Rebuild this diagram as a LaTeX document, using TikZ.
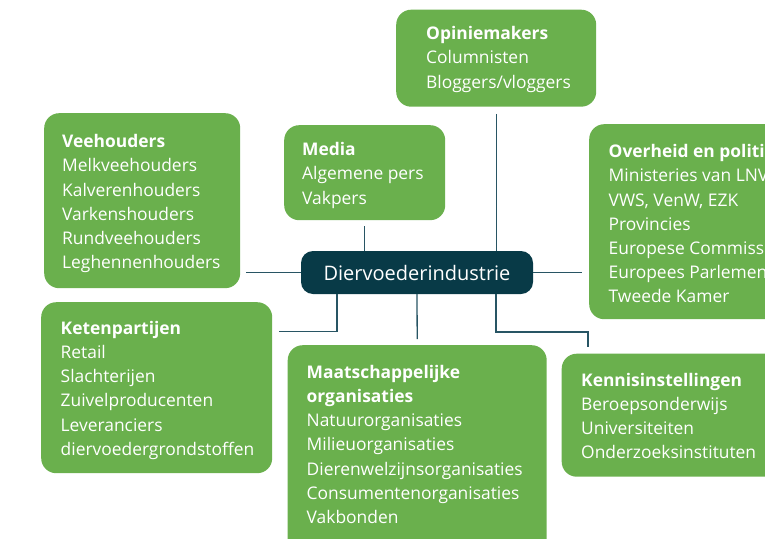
\documentclass[tikz,border=0pt]{standalone}
\usepackage{fontspec}
\setmainfont{Open Sans}
\definecolor{boxgreen}{RGB}{106,176,77}
\definecolor{darkteal}{RGB}{8,58,71}
\definecolor{linecol}{RGB}{40,85,100}
\begin{document}
\begin{tikzpicture}[x=1pt,y=-1pt,
  box/.style={fill=boxgreen, draw=none, rounded corners=15pt, anchor=north west, inner sep=0pt},
  txt/.style={anchor=north west, inner sep=0pt, align=left, text=white, font=\fontsize{17.4}{24.2}\selectfont},
  conn/.style={draw=linecol, line width=1.3pt}]
\useasboundingbox (0,0) rectangle (765,538);
\clip (0,0) rectangle (765,538);
% boxes
\node[box, minimum width=200pt, minimum height=97pt] (opin) at (396,9.5) {};
\node[box, minimum width=196pt, minimum height=175pt] (veeh) at (44,113) {};
\node[box, minimum width=161pt, minimum height=95pt] (media) at (284,125) {};
\node[box, minimum width=220pt, minimum height=195pt] (over) at (589,124) {};
\node[box, minimum width=231pt, minimum height=171pt] (keten) at (41,302) {};
\node[box, minimum width=259pt, minimum height=230pt] (maats) at (287.5,345) {};
\node[box, minimum width=240pt, minimum height=123pt] (kenn) at (561.5,353.5) {};
\node[fill=darkteal, rounded corners=12pt, inner sep=0pt, minimum width=232pt, minimum height=43pt,
      text=white, font=\fontsize{20}{24}\selectfont] (dier) at (417,272.5) {Diervoederindustrie};
% texts
\node[txt] (opint) at (426,39.5-16.94) {\strut\textbf{Opiniemakers}\\Columnisten\\Bloggers/vloggers};
\node[txt] (veeht) at (62,147.5-16.94) {\strut\textbf{Veehouders}\\Melkveehouders\\Kalverenhouders\\Varkenshouders\\Rundveehouders\\Leghennenhouders};
\node[txt] (mediat) at (302,155.5-16.94) {\strut\textbf{Media}\\Algemene pers\\Vakpers};
\node[txt] (overt) at (608.5,157.5-16.94) {\strut\textbf{Overheid en politiek}\\Ministeries van LNV,\\VWS, VenW, EZK\\Provincies\\Europese Commissie\\Europees Parlement\\Tweede Kamer};
\node[txt] (ketent) at (60.5,334-16.94) {\strut\textbf{Ketenpartijen}\\Retail\\Slachterijen\\Zuivelproducenten\\Leveranciers\\diervoedergrondstoffen};
\node[txt] (maatst) at (306.5,378-16.94) {\strut\textbf{Maatschappelijke}\\\textbf{organisaties}\\Natuurorganisaties\\Milieuorganisaties\\Dierenwelzijnsorganisaties\\Consumentenorganisaties\\Vakbonden};
\node[txt] (kennt) at (581,386-16.94) {\strut\textbf{Kennisinstellingen}\\Beroepsonderwijs\\Universiteiten\\Onderzoeksinstituten};
% connectors
\coordinate (ketbend) at (279,331.5);
\coordinate (kenbend) at (588,332);
\coordinate (kenend) at (588,347);
\draw[conn] ([yshift=-7pt]opin.south) -- (opin.south |- dier.north);
\draw[conn] ([yshift=-6pt]media.south) -- (media.south |- dier.north);
\draw[conn] ([xshift=6pt]veeh.east |- dier.west) -- (dier.west);
\draw[conn] (dier.east) -- ([xshift=-7pt]over.west |- dier.east);
\draw[conn] ([xshift=-80pt]dier.south) |- (ketbend);
\draw[conn] (dier.south) -- ([yshift=6pt]maats.north);
\draw[conn] ([xshift=79pt]dier.south) |- (kenbend) -- (kenend);
\end{tikzpicture}
\end{document}
